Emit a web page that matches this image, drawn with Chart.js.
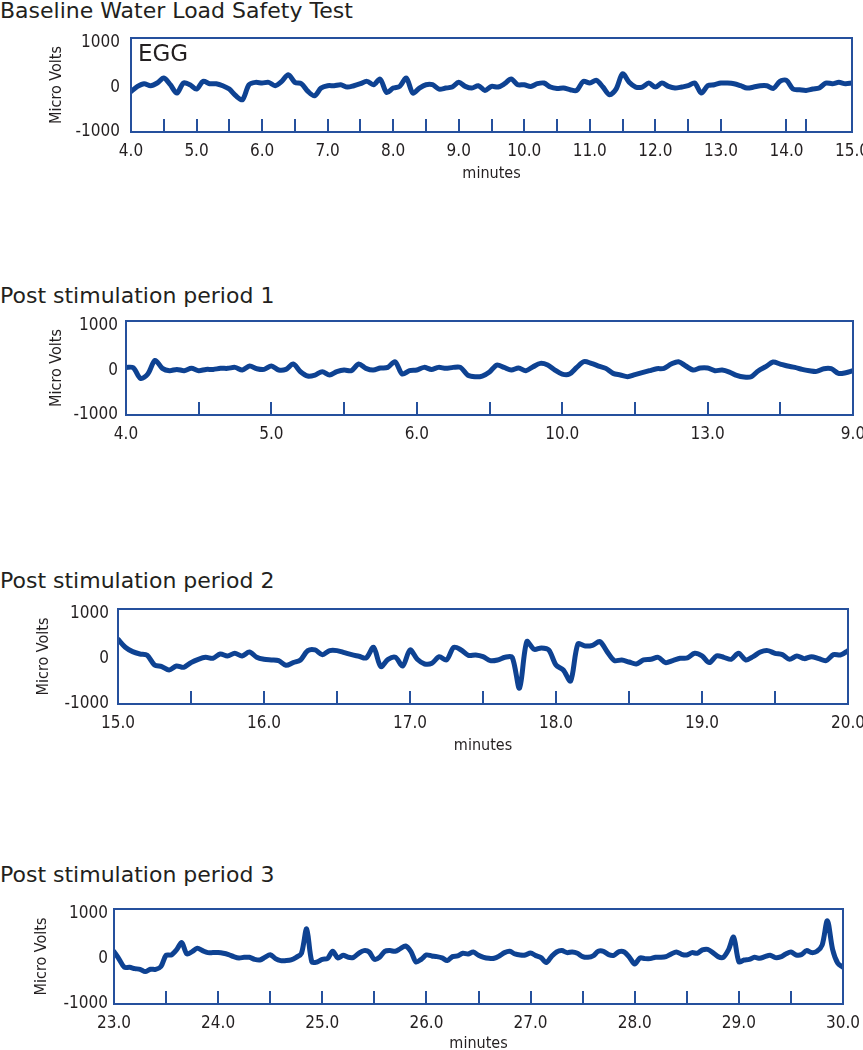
<!DOCTYPE html>
<html>
<head>
<meta charset="utf-8">
<script src="https://cdn.jsdelivr.net/npm/chart.js@4.4.1/dist/chart.umd.min.js"></script>
<style>
	html, body { margin: 0; padding: 0; background: #fff; overflow: hidden; }
	#page { position: relative; width: 863px; height: 1050px; }
	canvas { position: absolute; left: 0; }
	.title { position: absolute; left: 0; font-family: 'DejaVu Sans', sans-serif; font-size: 22px; line-height: 22px; color: #231f20; white-space: nowrap; }
	#egg { position: absolute; left: 138px; top: 42px; font-family: 'DejaVu Sans', sans-serif; font-size: 23px; line-height: 23px; color: #231f20; }
</style>
</head>
<body>
<div id="page">
	<div class="title" style="top:0px">Baseline Water Load Safety Test</div>
	<canvas id="c1" width="863" height="162" style="top:30px"></canvas>
	<div id="egg">EGG</div>

	<div class="title" style="top:285px">Post stimulation period 1</div>
	<canvas id="c2" width="863" height="135" style="top:313px"></canvas>

	<div class="title" style="top:570px">Post stimulation period 2</div>
	<canvas id="c3" width="863" height="164" style="top:601px"></canvas>

	<div class="title" style="top:864px">Post stimulation period 3</div>
	<canvas id="c4" width="863" height="160" style="top:901px"></canvas>
</div>

<script>
// EGG traces, micro volts
// baseline: 4.0 .. 15.0 min, every 0.1 min
const baselineStart = 4.0
const baselineStep = 0.1
const baselineUV = [
	-94, 19, 79, 34, 94, 206, 56, -131, 94, 56, -41, 131, 79, 79, 34, -41, -191, -280, 56, 109,
	94, 109, 34, 131, 281, 109, 79, -94, -191, -19, 34, 34, 56, 4, 34, 79, 131, 56, 183, -116,
	-19, 19, 206, -131, -19, 56, 56, -41, -19, 4, 109, 19, -19, 34, -71, 19, 4, 79, 183, 56,
	56, 19, 79, 94, 4, -26, -19, -56, -71, 131, 94, 153, 4, -168, -41, 300, 110, 4, 4, 94,
	4, 94, 19, -19, 4, 34, 94, -131, 34, 56, 94, 94, 79, 34, -19, 4, 34, 34, -26, 131,
	153, -41, -56, -71, -41, -19, 94, 79, 109, 79, 94
]

// period 1: axis positions 0 .. 10, every 0.1 (labels on that axis are not in order)
const period1Start = 0
const period1Step = 0.1
const period1UV = [
	64, 57, -182, -85, 220, 42, -10, 19, -10, 42, -10, 19, 19, 42, 42, 64, 4, 94, 34, 19,
	94, 4, 19, 138, -33, -130, -107, -33, -107, -33, 4, -10, 138, 42, 4, 49, 64, 191, -85, -10,
	4, 64, 19, 64, 42, 64, 64, -107, -145, -130, -40, 116, 64, 4, 49, -10, 79, 153, 116, 4,
	-85, -85, 64, 191, 153, 94, 42, -70, -107, -145, -100, -55, -10, 34, 42, 138, 191, 94, 4, 49,
	49, -10, 4, -40, -115, -152, -145, -10, 79, 183, 138, 94, 64, 19, -10, -25, 34, 34, -70, -55,
	-10
]
const period1Labels = ['4.0', '5.0', '6.0', '10.0', '13.0', '9.0']

// period 2: 15.0 .. 20.0 min, every 0.05 min
const period2Start = 15.0
const period2Step = 0.05
const period2UV = [
	430, 254, 158, 106, 77, -137, -174, -248, -159, -189, -85, -12, 32, 10, 106, 62, 121, 62, 150, 32,
	-12, -27, -41, -144, -85, -27, 180, 195, 91, 180, 180, 136, 91, 55, 18, 254, -174, -12, 32, -159,
	195, -12, -115, -100, 47, -27, 254, 195, 77, 84, 47, -41, -27, 32, 32, -650, 379, 209, 239, 195,
	-137, -248, -490, 327, 283, 298, 379, 158, -41, -27, -71, -115, -27, -12, 32, -85, -41, 10, 18, 121,
	62, -85, 62, 32, -12, 121, -27, 47, 150, 180, 121, 91, -12, 62, 3, 47, 3, -41, 91, 84,
	180
]

// period 3: 23.0 .. 30.0 min, every 0.05 min
const period3Start = 23.0
const period3Step = 0.05
const period3UV = [
	158, -12, -189, -189, -218, -233, -284, -233, -233, -174, 77, 84, 195, 357, 106, 158, 231, 180, 136, 136,
	136, 121, 91, 47, 18, 32, 32, -12, -27, 32, 91, 3, -41, -41, -27, 32, 121, 660, -71, -71,
	-12, 3, 165, 18, 77, 32, 32, 121, 180, 150, -12, 32, 165, 180, 165, 224, 283, 165, -71, -12,
	84, 62, 47, 18, -41, 47, 62, 121, 106, 150, 77, 32, 10, 10, 62, 136, 165, 106, 84, 84,
	128, 69, 25, -85, 47, 150, 180, 136, 150, 121, 47, 32, 62, 165, 165, 91, 77, 158, 150, 32,
	-115, 18, 3, 3, 32, 32, 47, 106, 150, 99, 84, 136, 121, 195, 209, 136, 47, 32, 195, 480,
	-63, -27, -12, 32, 10, 47, 77, 25, 40, 106, 150, 84, 91, 180, 136, 165, 305, 840, 209, -100,
	-189
]

// tick marks standing up from the time axis
const baselineMarks = [4.5, 5, 5.5, 6, 6.5, 7, 7.5, 8, 8.5, 9, 9.5, 10, 10.5, 11, 11.5, 12, 12.5, 13, 14, 14.3]
const period1Marks = [1, 2, 3, 4, 5, 6, 7, 8, 9]
const period2Marks = [15.5, 16, 16.5, 17, 17.5, 18, 18.5, 19, 19.5]
const period3Marks = [23.5, 24, 24.5, 25, 25.5, 26, 26.5, 27, 27.5, 28, 28.5, 29, 29.5]

const yTicks = [-1000, 0, 1000]

const lineBlue = '#0e4292'
const frameBlue = '#25509d'
const textColor = '#231f20'
const narrow = "'Liberation Sans Narrow', 'DejaVu Sans Condensed', 'Liberation Sans', sans-serif"

function toPoints(start, step, values) {
	return values.map((v, i) => ({ x: start + i * step, y: v }))
}

// box round the plot plus the small inner ticks
const framePlugin = {
	id: 'frame',
	afterDatasetsDraw(chart, args, opts) {
		const { ctx, chartArea: a } = chart
		const x = chart.scales.x
		ctx.save()
		ctx.strokeStyle = frameBlue
		ctx.lineWidth = 2
		ctx.strokeRect(a.left, a.top, a.right - a.left, a.bottom - a.top)
		ctx.beginPath()
		opts.marks.forEach(v => {
			const px = Math.round(x.getPixelForValue(v))
			ctx.moveTo(px, a.bottom)
			ctx.lineTo(px, a.bottom - 13)
		})
		ctx.stroke()
		ctx.restore()
	}
}

function makeChart(id, cfg) {
	const ctx = document.getElementById(id).getContext('2d')
	return new Chart(ctx, {
		type: 'line',
		data: {
			datasets: [
				{
					data: cfg.points,
					borderColor: lineBlue,
					borderWidth: 5,
					pointRadius: 0,
					tension: 0.3,
					borderJoinStyle: 'round',
					borderCapStyle: 'round',
					fill: false,
				},
			],
		},
		plugins: [framePlugin],
		options: {
			responsive: false,
			devicePixelRatio: 1,
			animation: false,
			layout: { padding: { top: 8, right: cfg.right, left: 0, bottom: 0 } },
			plugins: {
				legend: { display: false },
				tooltip: { enabled: false },
				frame: { marks: cfg.marks },
			},
			scales: {
				x: {
					type: 'linear',
					min: cfg.min,
					max: cfg.max,
					grid: { display: false, drawTicks: false },
					border: { display: false },
					afterBuildTicks: s => { s.ticks = cfg.ticks.map(v => ({ value: v })) },
					afterFit: s => { s.height = cfg.xHeight; s.paddingLeft = 0; s.paddingRight = 0 },
					ticks: {
						autoSkip: false,
						maxRotation: 0,
						padding: 9,
						color: textColor,
						font: { family: narrow, size: 17 },
						callback: cfg.label,
					},
					title: {
						display: cfg.minutes,
						text: 'minutes',
						color: textColor,
						font: { family: narrow, size: 16 },
						padding: { top: 0, bottom: cfg.titleBottom },
					},
				},
				y: {
					min: -1000,
					max: 1100,
					grid: { display: false, drawTicks: false },
					border: { display: false },
					afterBuildTicks: s => { s.ticks = yTicks.map(v => ({ value: v })) },
					afterFit: s => { s.width = cfg.yWidth; s.paddingTop = 0; s.paddingBottom = 0 },
					ticks: {
						padding: cfg.yPad,
						color: textColor,
						font: { family: narrow, size: 17 },
						callback: v => String(v),
					},
					title: {
						display: true,
						text: 'Micro Volts',
						color: textColor,
						font: { family: narrow, size: 16 },
						padding: { top: cfg.yTitleLeft, bottom: 0 },
					},
				},
			},
		},
	})
}

const oneDecimal = v => Number(v).toFixed(1)

makeChart('c1', {
	points: toPoints(baselineStart, baselineStep, baselineUV),
	marks: baselineMarks,
	min: 4, max: 15,
	ticks: [4, 5, 6, 7, 8, 9, 10, 11, 12, 13, 14, 15],
	label: oneDecimal,
	right: 11, yWidth: 131, xHeight: 60, yPad: 11,
	minutes: true, titleBottom: 9, yTitleLeft: 47,
})

makeChart('c2', {
	points: toPoints(period1Start, period1Step, period1UV),
	marks: period1Marks,
	min: 0, max: 10,
	ticks: [0, 2, 4, 6, 8, 10],
	label: (v, i) => period1Labels[i],
	right: 10, yWidth: 126, xHeight: 33, yPad: 8,
	minutes: false, titleBottom: 0, yTitleLeft: 47,
})

makeChart('c3', {
	points: toPoints(period2Start, period2Step, period2UV),
	marks: period2Marks,
	min: 15, max: 20,
	ticks: [15, 16, 17, 18, 19, 20],
	label: oneDecimal,
	right: 15, yWidth: 118, xHeight: 61, yPad: 9,
	minutes: true, titleBottom: 10, yTitleLeft: 34,
})

makeChart('c4', {
	points: toPoints(period3Start, period3Step, period3UV),
	marks: period3Marks,
	min: 23, max: 30,
	ticks: [23, 24, 25, 26, 27, 28, 29, 30],
	label: oneDecimal,
	right: 20, yWidth: 114, xHeight: 57, yPad: 6,
	minutes: true, titleBottom: 8, yTitleLeft: 32,
})
</script>
</body>
</html>
